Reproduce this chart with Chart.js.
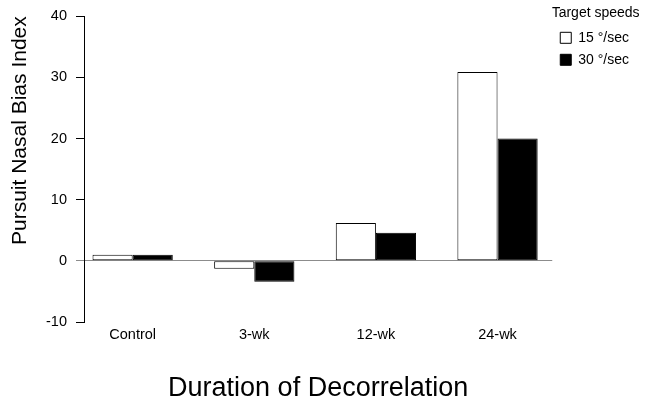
<!DOCTYPE html>
<html>
<head>
<meta charset="utf-8">
<script src="https://cdn.jsdelivr.net/npm/chart.js@4"></script>
<style>
  html, body { margin: 0; padding: 0; background: #fff; }
</style>
</head>
<body>
<canvas id="bias-chart" width="650" height="405"></canvas>
<script>
const durations = ['Control', '3-wk', '12-wk', '24-wk'];
const speed15 = [1.0, -1.3, 6.2, 30.9];
const speed30 = [1.0, -3.4, 4.6, 20.0];
const yTicks = [-10, 0, 10, 20, 30, 40];

Chart.defaults.font.family = 'Liberation Sans, Arial, sans-serif';
Chart.defaults.color = '#000';

const zeroGray = '#8c8c8c';
// bars sit on a linear x scale (index per duration) so the group spacing can be set
const points = (vals) => vals.map((v, i) => ({x: i, y: v}));

new Chart(document.getElementById('bias-chart'), {
  type: 'bar',
  data: {
    datasets: [{
      label: '15 °/sec',
      data: points(speed15),
      backgroundColor: '#fff',
      borderColor: '#000',
      borderWidth: 1,
      borderSkipped: false
    }, {
      label: '30 °/sec',
      data: points(speed30),
      backgroundColor: '#000',
      borderColor: '#000',
      borderWidth: 1,
      borderSkipped: false
    }]
  },
  options: {
    responsive: false,
    animation: false,
    layout: { padding: { top: 0, right: 11, bottom: 0, left: 0 } },
    datasets: { bar: { barPercentage: 1, categoryPercentage: 0.66 } },
    scales: {
      x: {
        type: 'linear',
        offset: false,
        min: -0.4,
        max: 3.45,
        afterBuildTicks: (scale) => { scale.ticks = durations.map((d, i) => ({value: i})); },
        afterFit: (scale) => { scale.height = 83; },
        grid: { display: false, drawTicks: false },
        border: { display: false },
        ticks: {
          font: { size: 14.5, lineHeight: 1 },
          padding: 6,
          callback: (v) => durations[v]
        },
        title: {
          display: true,
          text: 'Duration of Decorrelation',
          font: { size: 27, lineHeight: 1 },
          padding: { top: 0, bottom: 3 }
        }
      },
      y: {
        min: -10,
        max: 40,
        afterBuildTicks: (scale) => { scale.ticks = yTicks.map(v => ({value: v})); },
        afterFit: (scale) => { scale.width = 84; },
        grid: {
          color: (ctx) => ctx.tick && ctx.tick.value === 0 ? zeroGray : 'transparent',
          tickColor: (ctx) => ctx.tick && ctx.tick.value === 0 ? zeroGray : '#000',
          tickLength: 8
        },
        border: { display: true, color: '#000' },
        ticks: { font: { size: 14.5, lineHeight: 1 }, padding: 9 },
        title: {
          display: true,
          text: 'Pursuit Nasal Bias Index',
          align: 'end',
          font: { size: 21 },
          padding: { top: 8, bottom: 0 }
        }
      }
    },
    plugins: {
      legend: {
        position: 'right',
        align: 'start',
        title: {
          display: true,
          text: 'Target speeds',
          font: { size: 14 },
          padding: { top: 6, bottom: 0 }
        },
        labels: { boxWidth: 11, boxHeight: 11, font: { size: 14 }, padding: 8 }
      },
      tooltip: { enabled: false }
    }
  }
});
</script>
</body>
</html>
